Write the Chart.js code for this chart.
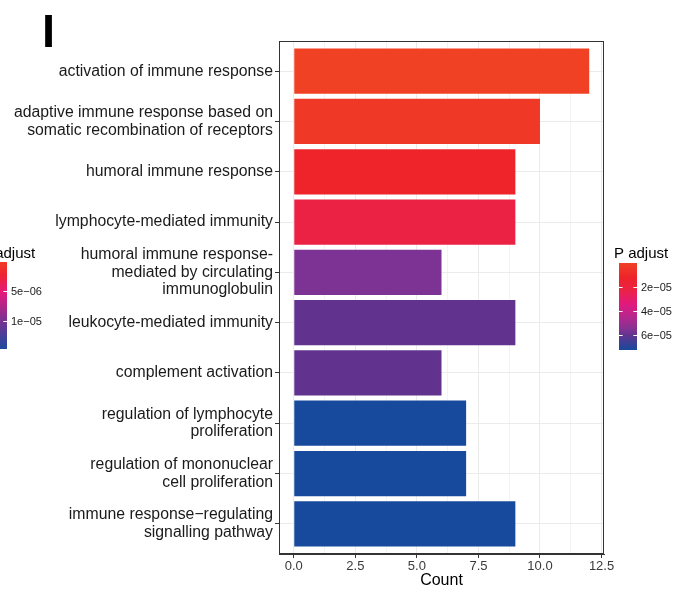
<!DOCTYPE html>
<html>
<head>
<meta charset="utf-8">
<script src="https://cdn.jsdelivr.net/npm/chart.js@4/dist/chart.umd.min.js"></script>
<style>
  html, body { margin: 0; padding: 0; background: #fff; }
  #wrap { width: 688px; height: 590px; }
</style>
</head>
<body>
<div id="wrap"><canvas id="c" width="688" height="590"></canvas></div>
<script>
// GO terms (top to bottom), gene counts and adjusted p-values
const terms = [
  'activation of immune response',
  'adaptive immune response based on\nsomatic recombination of receptors',
  'humoral immune response',
  'lymphocyte-mediated immunity',
  'humoral immune response-\nmediated by circulating\nimmunoglobulin',
  'leukocyte-mediated immunity',
  'complement activation',
  'regulation of lymphocyte\nproliferation',
  'regulation of mononuclear\ncell proliferation',
  'immune response\u2212regulating\nsignalling pathway'
];
const counts = [12, 10, 9, 9, 6, 9, 6, 7, 7, 9];
const pAdjust = [1.0e-7, 3.5e-6, 1.2e-5, 2.2e-5, 5.6e-5, 6.0e-5, 6.0e-5, 7.2e-5, 7.2e-5, 7.2e-5];

// x axis ticks
const countTicks = [0, 2.5, 5, 7.5, 10, 12.5];

// colour bar ticks for this panel and for the neighbouring panel's legend
const legendTicks = [2e-5, 4e-5, 6e-5];
const legendTickLabels = ['2e\u221205', '4e\u221205', '6e\u221205'];
const sideLegendTicks = [5e-6, 1e-5];
const sideLegendTickLabels = ['5e\u221206', '1e\u221205'];
const sideLegendRange = [1e-7, 1.48e-5];

const FONT = "'Liberation Sans', Arial, Helvetica, sans-serif";
Chart.defaults.font.family = FONT;

// gradient used for fill (low p -> red, high p -> blue)
const fillStops = [
  [0.00, '#F04124'],
  [0.17, '#EE232A'],
  [0.31, '#EC2246'],
  [0.48, '#E0197F'],
  [0.66, '#A92A90'],
  [0.78, '#7B3393'],
  [0.83, '#62338F'],
  [1.00, '#174A9C']
];
const sideStops = [
  [0.00, '#F03A24'],
  [0.15, '#EE2232'],
  [0.35, '#E41A7C'],
  [0.67, '#7A3192'],
  [1.00, '#1B4A9E']
];

const pMin = Math.min(...pAdjust);
const pMax = Math.max(...pAdjust);

function hexToRgb(h) {
  const n = parseInt(h.slice(1), 16);
  return [(n >> 16) & 255, (n >> 8) & 255, n & 255];
}
function colourAt(stops, t) {
  t = Math.max(0, Math.min(1, t));
  for (let i = 1; i < stops.length; i++) {
    if (t <= stops[i][0]) {
      const [t0, c0] = stops[i - 1];
      const [t1, c1] = stops[i];
      const f = (t - t0) / (t1 - t0 || 1);
      const a = hexToRgb(c0), b = hexToRgb(c1);
      const m = a.map((v, k) => Math.round(v + (b[k] - v) * f));
      return `rgb(${m[0]},${m[1]},${m[2]})`;
    }
  }
  return stops[stops.length - 1][1];
}
const barColours = pAdjust.map(p => colourAt(fillStops, (p - pMin) / (pMax - pMin)));

function drawColourbar(ctx, o) {
  const g = ctx.createLinearGradient(0, o.y, 0, o.y + o.h);
  o.stops.forEach(([t, c]) => g.addColorStop(t, c));
  ctx.fillStyle = g;
  ctx.fillRect(o.x, o.y, o.w, o.h);
  ctx.strokeStyle = '#ffffff';
  ctx.lineWidth = 1;
  ctx.font = `11px ${FONT}`;
  ctx.textAlign = 'left';
  ctx.textBaseline = 'middle';
  o.ticks.forEach((v, i) => {
    const ty = Math.round(o.y + (v - o.min) / (o.max - o.min) * o.h) + 0.5;
    const tl = o.w * 0.2;
    ctx.beginPath();
    ctx.moveTo(o.x, ty); ctx.lineTo(o.x + tl, ty);
    ctx.moveTo(o.x + o.w - tl, ty); ctx.lineTo(o.x + o.w, ty);
    ctx.stroke();
    ctx.fillStyle = '#1A1A1A';
    ctx.fillText(o.labels[i], o.x + o.w + 4, ty);
  });
  ctx.fillStyle = '#000';
  ctx.font = `15px ${FONT}`;
  ctx.textBaseline = 'alphabetic';
  ctx.fillText(o.title, o.tx, o.ty);
}

const decorations = {
  id: 'decorations',
  afterDraw(chart) {
    const ctx = chart.ctx;
    const a = chart.chartArea;
    ctx.save();
    // panel border
    ctx.strokeStyle = '#333333';
    ctx.lineWidth = 1;
    ctx.strokeRect(Math.round(a.left) + 0.5, Math.round(a.top) + 0.5,
                   Math.round(a.right - a.left) - 1, Math.round(a.bottom - a.top) - 1);
    // panel tag
    ctx.fillStyle = '#000';
    ctx.font = `bold 47px ${FONT}`;
    ctx.textAlign = 'left';
    ctx.textBaseline = 'alphabetic';
    ctx.fillText('I', 42, 47);
    // colour legend of this panel
    drawColourbar(ctx, {
      x: 619, y: 263, w: 18, h: 87,
      stops: fillStops, min: pMin, max: pMax,
      ticks: legendTicks, labels: legendTickLabels,
      title: 'P adjust', tx: 614, ty: 258
    });
    // legend of the neighbouring panel, cut at the page edge
    drawColourbar(ctx, {
      x: -11, y: 262, w: 18, h: 87,
      stops: sideStops, min: sideLegendRange[0], max: sideLegendRange[1],
      ticks: sideLegendTicks, labels: sideLegendTickLabels,
      title: 'P adjust', tx: -19, ty: 258
    });
    ctx.restore();
  }
};

new Chart(document.getElementById('c'), {
  type: 'bar',
  data: {
    datasets: [{
      data: counts.map((c, i) => ({ x: c, y: i })),
      backgroundColor: barColours,
      borderWidth: 0,
      barPercentage: 0.9,
      categoryPercentage: 1.0
    }]
  },
  options: {
    indexAxis: 'y',
    responsive: false,
    animation: false,
    events: [],
    layout: { padding: { left: 0, right: 84, top: 41, bottom: 0 } },
    plugins: { legend: { display: false }, tooltip: { enabled: false } },
    scales: {
      x: {
        type: 'linear',
        position: 'bottom',
        min: -0.6,
        max: 12.6,
        afterBuildTicks(scale) {
          const t = [];
          for (let v = 0; v <= 12.5 + 1e-9; v += 1.25) t.push({ value: v, major: countTicks.includes(v) });
          scale.ticks = t;
        },
        afterFit(scale) { scale.height = 36; },
        grid: {
          color: ctx => (ctx.tick && countTicks.includes(ctx.tick.value)) ? '#EBEBEB' : '#F3F3F3',
          tickColor: ctx => (ctx.tick && countTicks.includes(ctx.tick.value)) ? '#333333' : 'rgba(0,0,0,0)',
          tickLength: 4,
          drawTicks: true
        },
        border: { display: true, color: '#333333' },
        ticks: {
          autoSkip: false,
          maxRotation: 0,
          padding: 1,
          color: '#3A3A3A',
          font: { size: 13 },
          callback: v => countTicks.includes(v) ? v.toFixed(1) : ''
        },
        title: {
          display: true,
          text: 'Count',
          color: '#000',
          font: { size: 16 },
          padding: { top: 0, bottom: 0 }
        }
      },
      y: {
        type: 'linear',
        reverse: true,
        min: -0.6,
        max: 9.6,
        offset: false,
        afterBuildTicks(scale) {
          scale.ticks = terms.map((_, i) => ({ value: i }));
        },
        afterFit(scale) { scale.width = 279; },
        grid: {
          offset: false,
          color: '#EBEBEB',
          tickColor: '#333333',
          tickLength: 4
        },
        border: { display: true, color: '#333333' },
        ticks: {
          autoSkip: false,
          padding: 2,
          color: '#1A1A1A',
          font: { size: 15.8, lineHeight: 1.1 },
          callback: v => terms[v] !== undefined ? terms[v].split('\n') : ''
        }
      }
    }
  },
  plugins: [decorations]
});
</script>
</body>
</html>
